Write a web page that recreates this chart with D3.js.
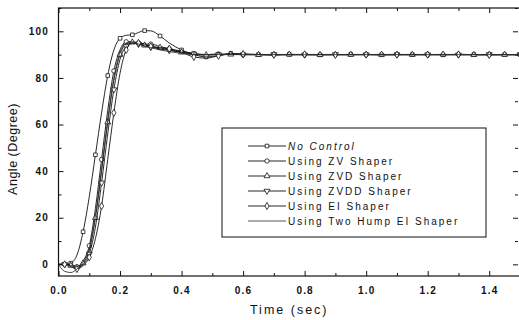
<!DOCTYPE html>
<html>
<head>
<meta charset="utf-8">
<script src="https://cdn.jsdelivr.net/npm/d3@7/dist/d3.min.js"></script>
<style>
  html, body { margin:0; padding:0; background:#fff; }
  svg { display:block; }
  text { font-family: "Liberation Sans", Arial, sans-serif; fill:#111; }
</style>
</head>
<body>
<svg id="chart" width="519" height="320"></svg>
<script>
// Step response of the flexible link
const time = [0,0.02,0.04,0.06,0.08,0.10,0.12,0.14,0.16,0.18,0.20,0.22,0.24,0.26,0.28,0.30,
  0.33,0.36,0.40,0.44,0.48,0.52,0.56,0.60,
  0.65,0.70,0.75,0.80,0.85,0.90,0.95,1.00,1.05,1.10,1.15,1.20,1.25,1.30,1.35,1.40,1.45,1.50];

const noControl = [0,0,0.5,4,14,29,47,65,81,92,97,98.3,98.5,99.5,100.3,100.2,
  98,95,92,90,89,89.5,90.5,90.3,
  90,89.8,90.1,90,89.9,90,90.1,90,89.9,90,90,90.1,89.9,90,90,89.9,90,90];
const zv = [0,0,0,-1,1.5,8,24,45,66,83,92,95.5,95.5,95,94.5,94.5,
  93.5,92.5,91.5,90.5,90,90.3,90.2,90,
  90.1,90,89.9,90,90.1,90,89.9,90,90,90.1,90,89.9,90,90.1,90,90,89.9,90];
const zvd = [0,0,-0.5,-1.5,0.5,6,20,40,61,79,90,94.5,95.3,94.8,94,93.5,
  93,92,91,90,89.8,90,90.1,90,
  89.9,90,90.1,90,89.9,90,90,90.1,90,89.9,90,90,90.1,90,89.9,90,90,90];
const zvdd = [0,0,-0.5,-1.5,0,4.5,16,35,56,75,88,93.5,95,94.5,93.8,93.2,
  92.5,91.8,91,90.3,90,90,90.1,90,
  90,90.1,90,89.9,90,90.1,90,90,89.9,90,90.1,90,90,89.9,90,90.1,90,90];
const ei = [0,0,-1,-2,-0.5,3,11,25,45,65,82,92,95,95,94.5,93.5,
  93,92.5,91,89,88.5,89.5,90.3,90.2,
  90,89.9,90,90.1,90,89.9,90,90,90.1,90,89.9,90,90,90.1,90,89.9,90,90];
const twoHump = [0,-3,-3.5,-2,1,7,21,41,62,80,91,95,95.5,94.5,93.5,93,
  92,91.3,90.5,90,89.9,90,90,90,
  90,90,90,90,90,90,90,90,90,90,90,90,90,90,90,90,90,90];

const seriesNames = ['No Control','Using ZV Shaper','Using ZVD Shaper','Using ZVDD Shaper','Using EI Shaper','Using Two Hump EI Shaper'];
const seriesValues = [noControl, zv, zvd, zvdd, ei, twoHump];
const seriesMarkers = ['square','circle','triangle','triangleDown','diamond','none'];
const markOffset = [0,1,0,1,1,0];

const xTicks = [0,0.2,0.4,0.6,0.8,1.0,1.2,1.4];
const xMinor = [0.1,0.3,0.5,0.7,0.9,1.1,1.3,1.5];
const yTicks = [0,20,40,60,80,100];
const yMinor = [10,30,50,70,90,110];

(function(){
  const svg = d3.select('#chart');
  const left = 58.5, right = 520, top = 8, bottom = 276;
  const x = d3.scaleLinear().domain([0,1.5]).range([left,right]);
  const y = d3.scaleLinear().domain([-5,110]).range([bottom,top]);

  // axes (ticks point inward on all four sides)
  function ax(gen, tr, vals, size, fmt){
    const g = svg.append('g').attr('transform',tr)
      .call(gen.tickValues(vals).tickSize(size).tickSizeOuter(0).tickFormat(fmt));
    g.select('.domain').remove();
    g.selectAll('line').attr('stroke','#111').attr('stroke-width',1);
    return g;
  }
  const xb = ax(d3.axisBottom(x), `translate(0,${bottom})`, xTicks, -5, d3.format('.1f'));
  xb.selectAll('text').attr('y',11).attr('dy','0.71em').attr('font-size',10).attr('font-weight','bold').attr('letter-spacing',1.2);
  ax(d3.axisBottom(x), `translate(0,${bottom})`, xMinor, -3, '');
  ax(d3.axisTop(x), `translate(0,${top})`, xTicks, -5, '');
  ax(d3.axisTop(x), `translate(0,${top})`, xMinor, -3, '');
  const yl = ax(d3.axisLeft(y), `translate(${left},0)`, yTicks, -5, d3.format('d'));
  yl.selectAll('text').attr('x',-9.5).attr('font-size',10).attr('font-weight','bold').attr('letter-spacing',1.2);
  ax(d3.axisLeft(y), `translate(${left},0)`, yMinor, -3, '');
  ax(d3.axisRight(y), `translate(${x(1.5)-2},0)`, yTicks, -5, '');
  ax(d3.axisRight(y), `translate(${x(1.5)-2},0)`, yMinor, -3, '');

  svg.append('rect').attr('x',left).attr('y',top).attr('width',right-left).attr('height',bottom-top)
    .attr('fill','none').attr('stroke','#111').attr('stroke-width',1.2);

  // axis titles
  svg.append('text').attr('x',(left+right)/2).attr('y',314).attr('text-anchor','middle')
    .attr('font-size',12.5).attr('letter-spacing',2).text('Time (sec)');
  svg.append('text').attr('transform','translate(17,149) rotate(-90)').attr('text-anchor','middle')
    .attr('font-size',12.5).attr('letter-spacing',0.5).text('Angle (Degree)');

  const plot = svg.append('g');
  plot.append('clipPath').attr('id','clip').append('rect')
    .attr('x',left).attr('y',top).attr('width',right-left).attr('height',bottom-top);
  const line = d3.line().x((d,i)=>x(time[i])).y(d=>y(d)).curve(d3.curveMonotoneX);

  const symbols = {square:d3.symbolSquare, circle:d3.symbolCircle, triangle:d3.symbolTriangle, diamond:d3.symbolDiamond};
  function marker(g, kind, cx, cy){
    if(kind==='none') return;
    const sz = kind==='square' ? 13 : 15;
    let rot = '';
    let type = symbols[kind];
    if(kind==='triangleDown'){ type = d3.symbolTriangle; rot = ' rotate(180)'; }
    g.append('path').attr('d', d3.symbol().type(type).size(sz)())
      .attr('transform',`translate(${cx},${cy})${rot}`)
      .attr('fill','#fff').attr('stroke','#111').attr('stroke-width',0.8);
  }

  seriesValues.forEach((vals,s)=>{
    const g = plot.append('g').attr('clip-path','url(#clip)');
    g.append('path').datum(vals).attr('d',line).attr('fill','none')
      .attr('stroke', s===5 ? '#333' : '#111').attr('stroke-width', 0.9);
    vals.forEach((v,i)=>{
      if(i>0 && (i+markOffset[s])%2===0) marker(g, seriesMarkers[s], x(time[i]), y(v));
    });
  });

  // legend
  const lg = svg.append('g');
  lg.append('rect').attr('x',222).attr('y',128).attr('width',264).attr('height',109)
    .attr('fill','#fff').attr('stroke','#111').attr('stroke-width',1);
  seriesNames.forEach((name,i)=>{
    const ry = 146 + i*15;
    lg.append('line').attr('x1',248).attr('x2',286).attr('y1',ry).attr('y2',ry)
      .attr('stroke', i===5 ? '#444' : '#111').attr('stroke-width',0.9);
    marker(lg, seriesMarkers[i], 267, ry);
    lg.append('text').attr('x',288).attr('y',ry).attr('dy','0.35em')
      .attr('font-size',10).attr('letter-spacing',2)
      .attr('font-style', i===0 ? 'italic' : 'normal').text(name);
  });
})();
</script>
</body>
</html>
